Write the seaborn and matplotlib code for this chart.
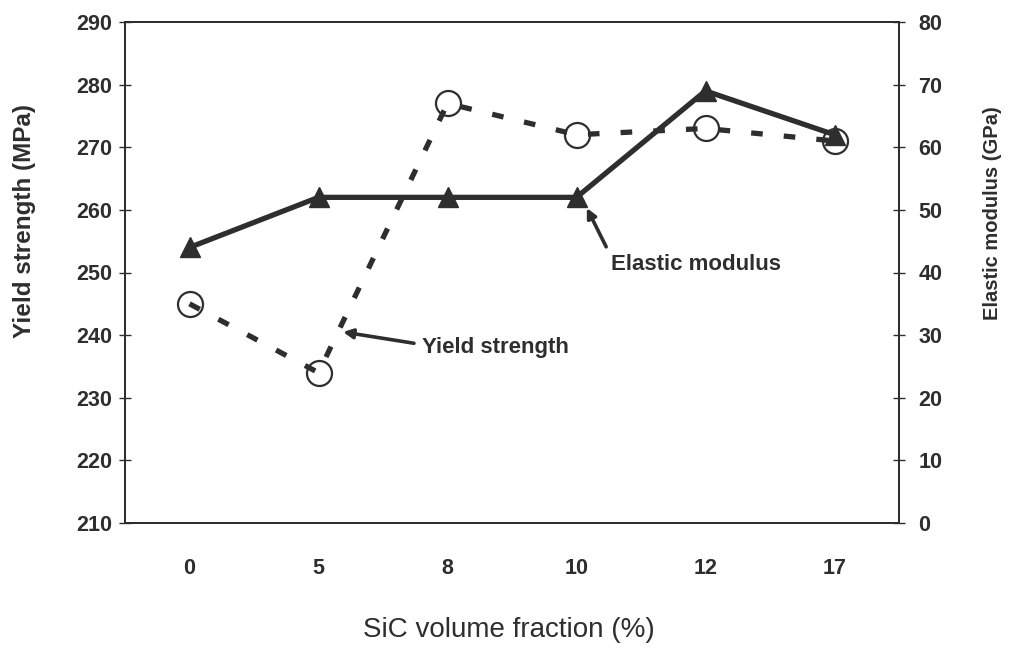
import matplotlib
matplotlib.use("Agg")
import matplotlib.pyplot as plt
import seaborn as sns
import pandas as pd
import numpy as np
from matplotlib.ticker import FixedLocator, FixedFormatter, NullFormatter

# ---- data ----
categories = ["0", "5", "8", "10", "12", "17"]
yield_strength = [245, 234, 277, 272, 273, 271]     # MPa (left axis)
elastic_modulus = [44, 52, 52, 52, 69, 62]          # GPa (right axis)
left_ticks = [210, 220, 230, 240, 250, 260, 270, 280, 290]
right_ticks = [0, 10, 20, 30, 40, 50, 60, 70, 80]

sns.set_style("white")
plt.rcParams["font.family"] = ["Liberation Sans", "DejaVu Sans"]

C = "#2e2e2e"
df = pd.DataFrame({"SiC": categories, "ys": yield_strength, "em": elastic_modulus})

fig = plt.figure(figsize=(10.1, 6.48), dpi=100)
ax = fig.add_axes([125 / 1010, 1 - 523 / 648, 774 / 1010, 501 / 648])
ax2 = ax.twinx()

sns.lineplot(data=df, x="SiC", y="ys", ax=ax, sort=False, color=C, lw=3.8,
             linestyle=(0, (2.2, 4.0)), marker="o", markersize=18,
             markerfacecolor="none", markeredgecolor=C, markeredgewidth=1.6)
sns.lineplot(data=df, x="SiC", y="em", ax=ax2, sort=False, color=C, lw=3.8,
             marker="^", markersize=15, markeredgecolor=C, markeredgewidth=1.0)

n = len(categories)
ax.set_xlim(-0.5, n - 0.5)
ax.set_ylim(left_ticks[0], left_ticks[-1])
ax2.set_ylim(right_ticks[0], right_ticks[-1])

# x: boundary ticks (major) + centred labels (minor)
ax.xaxis.set_major_locator(FixedLocator(np.arange(n + 1) - 0.5))
ax.xaxis.set_major_formatter(NullFormatter())
ax.xaxis.set_minor_locator(FixedLocator(np.arange(n)))
ax.xaxis.set_minor_formatter(FixedFormatter(categories))
ax.tick_params(axis="x", which="major", direction="inout", length=12, width=1.0, color=C)
ax.tick_params(axis="x", which="minor", length=0, pad=25, labelsize=15.5, labelcolor=C)
for t in ax.get_xticklabels(minor=True):
    t.set_fontweight("bold")

ax.set_yticks(left_ticks)
ax.tick_params(axis="y", direction="inout", length=8, width=1.0, color=C,
               pad=5, labelsize=15.5, labelcolor=C)
for t in ax.get_yticklabels():
    t.set_fontweight("bold")

ax2.set_yticks(right_ticks)
ax2.tick_params(axis="y", direction="inout", length=8, width=1.0, color=C,
                pad=10, labelsize=15.5, labelcolor=C)
for t in ax2.get_yticklabels():
    t.set_fontweight("bold")

for a in (ax, ax2):
    a.set_xlabel("")
    a.set_ylabel("")
    for s in a.spines.values():
        s.set_color(C)
        s.set_linewidth(1.3)

fig.text(25 / 1010, 1 - 221 / 648, "Yield strength (MPa)", rotation=90,
         ha="center", va="center", fontsize=17.5, fontweight="bold", color=C)
fig.text(993 / 1010, 1 - 213 / 648, "Elastic modulus (GPa)", rotation=90,
         ha="center", va="center", fontsize=14.5, fontweight="bold", color=C)
fig.text(509 / 1010, 1 - 630 / 648, "SiC volume fraction (%)",
         ha="center", va="center", fontsize=20, color=C)

# annotations
arrow = dict(arrowstyle="-|>", color=C, lw=2.6, mutation_scale=14, shrinkA=0, shrinkB=0)
ax.annotate("", xy=(1.19, 240.5), xytext=(1.74, 238.7), arrowprops=arrow)
ax.text(1.80, 238.1, "Yield strength", ha="left", va="center",
        fontsize=16, fontweight="bold", color=C)
ax.annotate("", xy=(3.08, 260.3), xytext=(3.23, 254.1), arrowprops=arrow)
ax.text(3.27, 251.2, "Elastic modulus", ha="left", va="center",
        fontsize=16, fontweight="bold", color=C)

fig.savefig("out.png", dpi=100)
